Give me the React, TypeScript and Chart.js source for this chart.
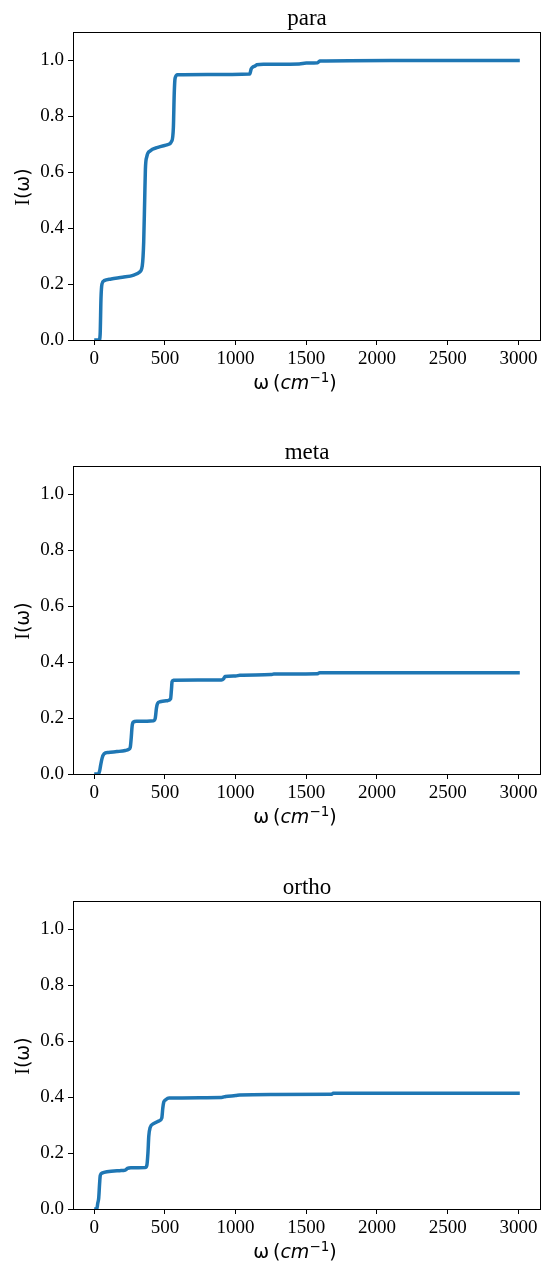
import React, { useEffect, useRef } from "react";
import { Chart, registerables } from "chart.js";

Chart.register(...registerables);

// ---------- data ----------
const xTicks = [0, 500, 1000, 1500, 2000, 2500, 3000];
const yTicks = [0, 0.2, 0.4, 0.6, 0.8, 1.0];
const titles = ["para", "meta", "ortho"];

const paraX = [0, 35, 42, 48, 55, 70, 120, 200, 280, 320, 340, 350, 357, 362, 372, 395, 450, 520, 548, 560, 566, 572, 590, 800, 1100, 1110, 1125, 1135, 1150, 1200, 1450, 1500, 1580, 1595, 2100, 3010];
const paraY = [0, 0, 0.02, 0.15, 0.2, 0.212, 0.218, 0.224, 0.232, 0.242, 0.265, 0.35, 0.5, 0.61, 0.655, 0.675, 0.688, 0.698, 0.71, 0.76, 0.88, 0.935, 0.947, 0.948, 0.95, 0.968, 0.976, 0.978, 0.983, 0.985, 0.986, 0.989, 0.99, 0.996, 0.998, 0.998];

const metaX = [0, 30, 38, 45, 55, 70, 100, 160, 220, 245, 255, 262, 268, 275, 300, 420, 432, 440, 448, 465, 520, 540, 546, 551, 560, 900, 915, 925, 1000, 1030, 1250, 1270, 1580, 1595, 3010];
const metaY = [0, 0, 0.01, 0.03, 0.055, 0.072, 0.077, 0.08, 0.084, 0.088, 0.095, 0.13, 0.17, 0.185, 0.188, 0.19, 0.2, 0.235, 0.252, 0.258, 0.262, 0.268, 0.3, 0.33, 0.335, 0.336, 0.34, 0.348, 0.35, 0.353, 0.355, 0.357, 0.358, 0.362, 0.362];

const orthoX = [0, 18, 25, 32, 38, 43, 55, 90, 180, 220, 235, 260, 360, 372, 380, 386, 395, 420, 460, 478, 485, 492, 505, 530, 900, 930, 1000, 1030, 1250, 1680, 1690, 3010];
const orthoY = [0, 0, 0.02, 0.04, 0.09, 0.12, 0.128, 0.133, 0.137, 0.139, 0.145, 0.147, 0.148, 0.155, 0.2, 0.26, 0.29, 0.305, 0.315, 0.325, 0.36, 0.382, 0.39, 0.396, 0.398, 0.402, 0.405, 0.407, 0.409, 0.41, 0.413, 0.413];

const series = [
  { xs: paraX, ys: paraY },
  { xs: metaX, ys: metaY },
  { xs: orthoX, ys: orthoY },
];

// ---------- layout ----------
const W = 542;
const H = 420;
const PANEL_TOPS = [0, 434, 869];
const SERIF = '"Liberation Serif", "Times New Roman", serif';
const SANS = '"DejaVu Sans", sans-serif';

const decorPlugin = {
  id: "decor",
  afterDraw(chart: any, _args: any, opts: any) {
    const { ctx, chartArea: a } = chart;
    ctx.save();
    // frame
    ctx.strokeStyle = "#000";
    ctx.lineWidth = 1;
    ctx.strokeRect(a.left + 0.5, a.top + 0.5, a.right - a.left - 1, a.bottom - a.top);
    ctx.fillStyle = "#000";
    // title
    ctx.font = `23px ${SERIF}`;
    ctx.textAlign = "center";
    ctx.textBaseline = "alphabetic";
    ctx.fillText(opts.title, (a.left + a.right) / 2, a.top - 7);

    // y label: I(ω)
    ctx.save();
    ctx.translate(29, (a.top + a.bottom) / 2 + 1);
    ctx.rotate(-Math.PI / 2);
    ctx.textAlign = "left";
    ctx.font = `20px ${SERIF}`;
    const wI = ctx.measureText("I").width;
    ctx.font = `19px ${SANS}`;
    const wRest = ctx.measureText("(ω)").width;
    const start = -(wI + wRest) / 2;
    ctx.font = `20px ${SERIF}`;
    ctx.fillText("I", start, 0);
    ctx.font = `19px ${SANS}`;
    ctx.fillText("(ω)", start + wI, 0);
    ctx.restore();

    // x label: ω (cm^-1)
    const parts = [
      { t: "ω\u2009(", f: `19px ${SANS}`, dy: 0 },
      { t: "cm", f: `italic 19px ${SANS}`, dy: 0 },
      { t: "−1", f: `13.5px ${SANS}`, dy: -7.5 },
      { t: ")", f: `19px ${SANS}`, dy: 0 },
    ];
    let total = 0;
    const widths = parts.map((p) => {
      ctx.font = p.f;
      const w = ctx.measureText(p.t).width;
      total += w;
      return w;
    });
    let x = 295 - total / 2;
    const by = a.bottom + 49;
    ctx.textAlign = "left";
    parts.forEach((p, i) => {
      ctx.font = p.f;
      ctx.fillText(p.t, x, by + p.dy);
      x += widths[i];
    });
    ctx.restore();
  },
};

function Panel({ idx }: { idx: number }) {
  const ref = useRef<HTMLCanvasElement | null>(null);
  useEffect(() => {
    const s = series[idx];
    const data = s.xs.map((x, i) => ({ x, y: s.ys[i] }));
    const chart = new Chart(ref.current as HTMLCanvasElement, {
      type: "line",
      data: {
        datasets: [
          {
            data,
            borderColor: "#1f77b4",
            borderWidth: 3.5,
            pointRadius: 0,
            fill: false,
            cubicInterpolationMode: "monotone",
            borderCapStyle: "butt",
            borderJoinStyle: "round",
          },
        ],
      },
      options: {
        animation: false,
        responsive: false,
        events: [],
        layout: { padding: { top: 32, right: 1, left: 0, bottom: 0 } },
        plugins: {
          legend: { display: false },
          title: { display: false },
          tooltip: { enabled: false },
          decor: { title: titles[idx] },
        } as any,
        scales: {
          x: {
            type: "linear",
            min: -150,
            max: 3160,
            afterBuildTicks: (scale: any) => {
              scale.ticks = xTicks.map((v) => ({ value: v }));
            },
            afterFit: (scale: any) => {
              scale.height = H - 340;
            },
            border: { display: false },
            grid: {
              display: true,
              drawOnChartArea: false,
              drawTicks: true,
              tickLength: 5,
              tickColor: "#000",
              tickWidth: 1,
            },
            ticks: {
              autoSkip: false,
              maxRotation: 0,
              minRotation: 0,
              padding: 3,
              color: "#000",
              font: { family: SERIF, size: 19 },
              callback: (v: any) => String(v),
            },
          },
          y: {
            type: "linear",
            min: 0,
            max: 1.1,
            afterBuildTicks: (scale: any) => {
              scale.ticks = yTicks.map((v) => ({ value: v }));
            },
            afterFit: (scale: any) => {
              scale.width = 73;
            },
            border: { display: false },
            grid: {
              display: true,
              drawOnChartArea: false,
              drawTicks: true,
              tickLength: 5,
              tickColor: "#000",
              tickWidth: 1,
            },
            ticks: {
              padding: 4,
              color: "#000",
              font: { family: SERIF, size: 19 },
              callback: (v: any) => Number(v).toFixed(1),
            },
          },
        },
      },
      plugins: [decorPlugin],
    } as any);
    return () => chart.destroy();
  }, [idx]);
  return (
    <canvas
      ref={ref}
      width={W}
      height={H}
      style={{ position: "absolute", left: 0, top: PANEL_TOPS[idx], width: W, height: H, display: "block" }}
    />
  );
}

export default function App() {
  return (
    <div style={{ position: "absolute", left: 0, top: 0, width: W, height: 1264, background: "#fff", overflow: "hidden" }}>
      {[0, 1, 2].map((i) => (
        <Panel key={i} idx={i} />
      ))}
    </div>
  );
}
